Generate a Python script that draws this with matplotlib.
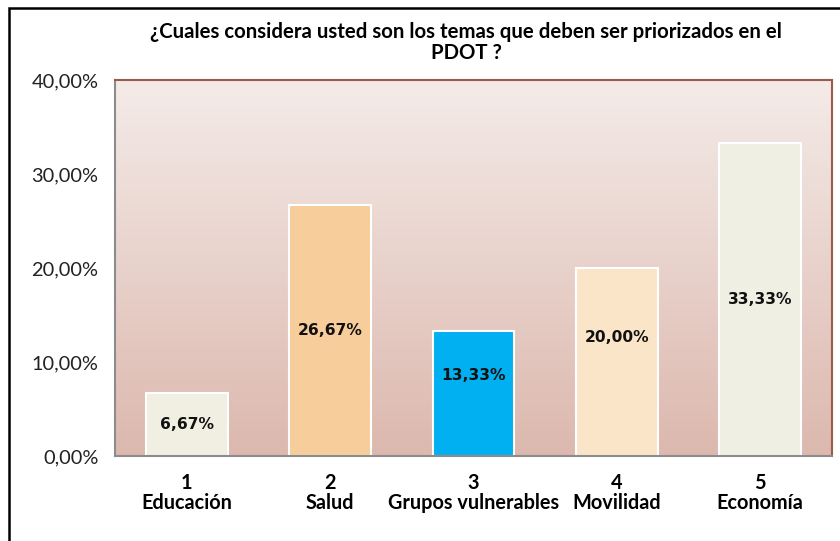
import numpy as np
import matplotlib
matplotlib.use("Agg")
import matplotlib.pyplot as plt
from matplotlib.patches import Rectangle

categorias = ["Educación", "Salud", "Grupos vulnerables", "Movilidad", "Economía"]
numeros = ["1", "2", "3", "4", "5"]
porcentajes = [6.67, 26.67, 13.33, 20.00, 33.33]
colores = ["#f0efe2", "#f6cd9b", "#00b0f0", "#fbe5c9", "#efefe3"]
y_ticks = [0, 10, 20, 30, 40]
# desplazamiento vertical de las etiquetas (puntos), como en el original
desplaz_etiq = [0, 0, 13, 18, 0]

plt.rcParams["font.family"] = ["Lato", "DejaVu Sans"]

fig = plt.figure(figsize=(8.4, 5.41), dpi=100)
ax = fig.add_axes([115 / 840, 1 - 456 / 541, (832 - 115) / 840, (456 - 80) / 541])

# fondo degradado del area de trazado
grad = np.linspace(0, 1, 256).reshape(-1, 1)
top = np.array([0xf4, 0xeb, 0xe8]) / 255
bot = np.array([0xdc, 0xb8, 0xae]) / 255
img = top + (bot - top) * grad[:, :, None]
x = np.arange(len(categorias))
ax.imshow(img, extent=[-0.5, len(categorias) - 0.5, 0, 40], aspect="auto", zorder=0, origin="upper")

ax.bar(x, porcentajes, width=0.57, color=colores, edgecolor="white", linewidth=1.5, zorder=2)
for xi, v, d in zip(x, porcentajes, desplaz_etiq):
    ax.annotate(f"{v:.2f}%".replace(".", ","), (xi, v / 2), xytext=(0, d), textcoords="offset points",
                ha="center", va="center", fontsize=11.2, fontweight="bold", family="DejaVu Sans",
                color="#111111", zorder=3)

ax.set_xlim(-0.5, len(categorias) - 0.5)
ax.set_ylim(0, 40)
ax.set_yticks(y_ticks)
ax.set_yticklabels([f"{t:.2f}%".replace(".", ",") for t in y_ticks], fontsize=14.4, color="#222222")
ax.set_xticks(x)
ax.set_xticklabels([f"{n}\n{c}" for n, c in zip(numeros, categorias)], fontsize=14.3, fontweight="bold",
                   linespacing=1.05)
ax.tick_params(axis="both", length=0)
ax.tick_params(axis="x", pad=12)
ax.tick_params(axis="y", pad=12)

for s in ["left", "bottom"]:
    ax.spines[s].set_color("#8c8c8c")
    ax.spines[s].set_linewidth(1.5)
for s in ["top", "right"]:
    ax.spines[s].set_color("#9c5a48")
    ax.spines[s].set_linewidth(1.5)

fig.text(466 / 840, 1 - 32 / 541, "¿Cuales considera usted son los temas que deben ser priorizados en el",
         ha="center", va="center", fontsize=14.7, fontweight="bold")
fig.text(466 / 840, 1 - 53 / 541, "PDOT ?", ha="center", va="center", fontsize=14.7, fontweight="bold")

# marco negro del grafico
fig.patches.append(Rectangle((9 / 840, -0.1), 1.2, 1.1 - 8 / 541, transform=fig.transFigure,
                             fill=False, edgecolor="black", linewidth=1.8, zorder=5))

fig.savefig("out.png", dpi=100)
